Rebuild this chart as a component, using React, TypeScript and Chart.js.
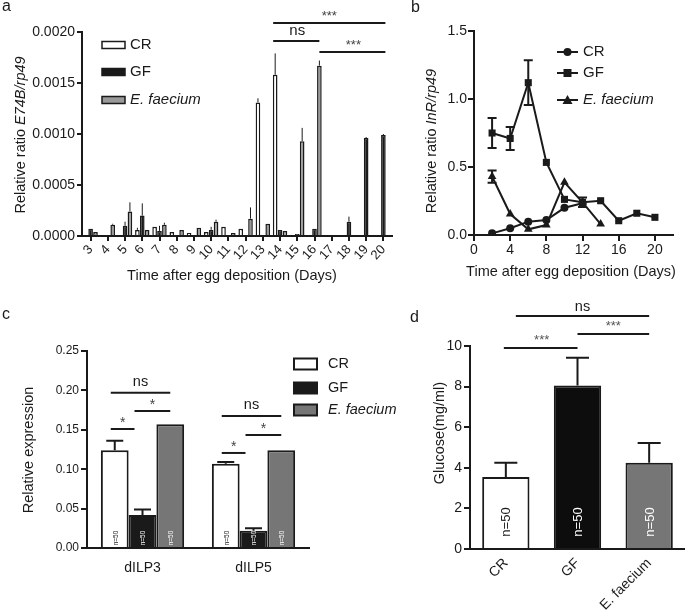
import React, { useEffect, useRef } from 'react';
import { Chart, registerables } from 'chart.js';
Chart.register(...registerables);

const FONT = '"Liberation Sans", Arial, Helvetica, sans-serif';
const INK = '#1a1a1a';
const GREY_A = '#9a9a9a';
const GREY_CD = '#767676';

// ---------- Panel a : E74B/rp49 ----------
const daysA = ['3', '4', '5', '6', '7', '8', '9', '10', '11', '12', '13', '14', '15', '16', '17', '18', '19', '20'];
const crA = [0.00001, 0.00001, 0.00001, 0.00006, 0.00009, 0.00004, 0.00003, 0.00004, 0.00009, 0.00007, 0.00131, 0.00158, 0, 0, 0, 0, 0, 0];
const crAErr = [0, 0, 0, 0.00002, 0, 0, 0, 0, 0, 0, 0.00004, 0.00021, 0, 0, 0, 0, 0, 0];
const gfA = [0.00007, 0.00001, 0.0001, 0.0002, 0.00005, 0, 0, 0.00006, 0, 0, 0, 0.00006, 0.00002, 0.00007, 0.00001, 0.00014, 0.00096, 0.00099];
const gfAErr = [0, 0, 0.00004, 0.00012, 0.00005, 0, 0, 0.00003, 0, 0, 0, 0, 0, 0, 0, 0.00005, 0.00001, 0.00001];
const efA = [0.00004, 0.00011, 0.00024, 0.00006, 0.00011, 0.00006, 0.00008, 0.00014, 0.00003, 0.00017, 0.00012, 0.00005, 0.00093, 0.00167, 0, 0, 0, 0];
const efAErr = [0, 0.00001, 0.00009, 0, 0.00002, 0, 0, 0.00002, 0, 0.00011, 0, 0, 0.00013, 0.00005, 0, 0, 0, 0];
const yTicksA = [0, 0.0005, 0.001, 0.0015, 0.002];

// ---------- Panel b : InR/rp49 ----------
const crBDays = [2, 4, 6, 8, 10, 12];
const crBVals = [0.012, 0.05, 0.098, 0.11, 0.2, 0.233];
const gfBDays = [2, 4, 6, 8, 10, 12, 14, 16, 18, 20];
const gfBVals = [0.75, 0.71, 1.12, 0.534, 0.262, 0.24, 0.252, 0.105, 0.16, 0.13];
const gfBErr = [0.11, 0.085, 0.165, 0, 0, 0.035, 0, 0, 0, 0];
const efBDays = [2, 4, 6, 8, 10, 12, 14];
const efBVals = [0.43, 0.154, 0.042, 0.073, 0.387, 0.24, 0.08];
const efBErr = [0.045, 0, 0, 0, 0, 0, 0];
const xTicksB = [0, 4, 8, 12, 16, 20];

// ---------- Panel c : dILP expression ----------
const genesC = ['dILP3', 'dILP5'];
const crC = [0.124, 0.107];
const crCErr = [0.012, 0.002];
const gfC = [0.042, 0.022];
const gfCErr = [0.007, 0.003];
const efC = [0.157, 0.124];
const efCErr = [0, 0];

// ---------- Panel d : Glucose ----------
const groupsD = ['CR', 'GF', 'E. faecium'];
const glucoseD = [3.55, 8.05, 4.25];
const glucoseDErr = [0.7, 1.37, 0.97];

const legendNames = ['CR', 'GF', 'E. faecium'];

type Seg = [string, boolean];

function drawRich(ctx: any, segs: Seg[], x: number, y: number, size: number, rotate = false, align = 'center', color = INK) {
  ctx.save();
  ctx.translate(x, y);
  if (rotate) ctx.rotate(-Math.PI / 2);
  const fonts = segs.map(([, it]) => `${it ? 'italic ' : ''}${size}px ${FONT}`);
  let total = 0;
  const widths = segs.map(([t], k) => {
    ctx.font = fonts[k];
    const w = ctx.measureText(t).width;
    total += w;
    return w;
  });
  let cx = align === 'center' ? -total / 2 : align === 'left' ? 0 : -total;
  ctx.textBaseline = 'middle';
  ctx.textAlign = 'left';
  ctx.fillStyle = color;
  segs.forEach(([t], k) => {
    ctx.font = fonts[k];
    ctx.fillText(t, cx, 0);
    cx += widths[k];
  });
  ctx.restore();
}

function hLine(ctx: any, x1: number, x2: number, y: number, w = 2) {
  ctx.save();
  ctx.strokeStyle = INK;
  ctx.lineWidth = w;
  ctx.beginPath();
  ctx.moveTo(x1, y);
  ctx.lineTo(x2, y);
  ctx.stroke();
  ctx.restore();
}

const errorBarPlugin = {
  id: 'errorBars',
  afterDatasetsDraw(chart: any) {
    const ctx = chart.ctx;
    chart.data.datasets.forEach((ds: any, i: number) => {
      const errs = ds.errors;
      if (!errs) return;
      const meta = chart.getDatasetMeta(i);
      const yScale = chart.scales[meta.yAxisID];
      meta.data.forEach((el: any, j: number) => {
        const e = errs[j];
        if (!e) return;
        const raw = ds.data[j];
        const v = typeof raw === 'object' ? raw.y : raw;
        const x = el.x;
        const yTop = yScale.getPixelForValue(v + e);
        const yBot = ds.errBoth ? yScale.getPixelForValue(v - e) : yScale.getPixelForValue(v);
        const cap = ds.errCap || 0;
        ctx.save();
        ctx.strokeStyle = INK;
        ctx.lineWidth = ds.errWidth || 1;
        ctx.beginPath();
        ctx.moveTo(x, yBot);
        ctx.lineTo(x, yTop);
        if (cap > 0) {
          ctx.moveTo(x - cap / 2, yTop);
          ctx.lineTo(x + cap / 2, yTop);
          if (ds.errBoth) {
            ctx.moveTo(x - cap / 2, yBot);
            ctx.lineTo(x + cap / 2, yBot);
          }
        }
        ctx.stroke();
        ctx.restore();
      });
    });
  },
};

function axisStyle(extra: any = {}) {
  return {
    grid: { display: true, drawOnChartArea: false, drawTicks: true, tickLength: 5, color: INK, lineWidth: 2, ...(extra.grid || {}) },
    border: { display: true, color: INK, width: 2 },
    ...extra.rest,
  };
}

function makeConfigA(): any {
  return {
    type: 'bar',
    data: {
      labels: daysA,
      datasets: [
        { label: 'CR', data: crA, errors: crAErr, errWidth: 1, backgroundColor: '#ffffff', borderColor: INK, borderWidth: 1.5 },
        { label: 'GF', data: gfA, errors: gfAErr, errWidth: 1, backgroundColor: INK, borderColor: INK, borderWidth: 1.5 },
        { label: 'E. faecium', data: efA, errors: efAErr, errWidth: 1, backgroundColor: GREY_A, borderColor: INK, borderWidth: 1.5 },
      ],
    },
    options: {
      responsive: false,
      animation: false,
      layout: { padding: { left: 0, right: 18, top: 32, bottom: 0 } },
      plugins: { legend: { display: false }, tooltip: { enabled: false } },
      datasets: { bar: { categoryPercentage: 0.85, barPercentage: 0.95 } },
      scales: {
        x: {
          ...axisStyle({ grid: { offset: false, tickLength: 5 } }),
          ticks: { color: INK, font: { family: FONT, size: 13 }, minRotation: 48, maxRotation: 48, padding: 1, autoSkip: false },
          afterFit(s: any) { s.height = 64; },
        },
        y: {
          ...axisStyle(),
          min: 0,
          max: 0.002,
          afterBuildTicks(s: any) { s.ticks = yTicksA.map((v) => ({ value: v })); },
          ticks: { color: INK, font: { family: FONT, size: 14 }, padding: 2, callback: (v: any) => Number(v).toFixed(4) },
          afterFit(s: any) { s.width = 82; },
        },
      },
    },
    plugins: [
      errorBarPlugin,
      {
        id: 'overlayA',
        afterDraw(chart: any) {
          const ctx = chart.ctx;
          const y = chart.scales.y;
          drawRich(ctx, [['Relative ratio ', false], ['E74B/rp49', true]], 21, 135, 14.5, true);
          drawRich(ctx, [['Time after egg deposition (Days)', false]], 232, 276, 14.5);
          // legend
          const fills = ['#ffffff', INK, GREY_A];
          const ly = [45, 72, 100];
          fills.forEach((f, k) => {
            ctx.save();
            ctx.fillStyle = f;
            ctx.strokeStyle = INK;
            ctx.lineWidth = 1.5;
            ctx.fillRect(102, ly[k] - 3.5, 23, 7);
            ctx.strokeRect(102, ly[k] - 3.5, 23, 7);
            ctx.restore();
            drawRich(ctx, [[legendNames[k], k === 2]], 130, ly[k], 15, false, 'left');
          });
          // significance
          const cr14 = chart.getDatasetMeta(0).data[11].x;
          const ef16 = chart.getDatasetMeta(2).data[13].x;
          const gf20 = chart.getDatasetMeta(1).data[17].x;
          const yTop = y.getPixelForValue(0.002088);
          const yNs = y.getPixelForValue(0.001912);
          const yLow = y.getPixelForValue(0.001804);
          hLine(ctx, cr14 - 2, gf20 + 2, yTop);
          drawRich(ctx, [['***', false]], (cr14 + gf20) / 2, yTop - 7, 13, false, 'center', '#444');
          hLine(ctx, cr14 - 2, ef16, yNs);
          drawRich(ctx, [['ns', false]], (cr14 + ef16) / 2, yNs - 10, 15);
          hLine(ctx, ef16, gf20 + 2, yLow);
          drawRich(ctx, [['***', false]], (ef16 + gf20) / 2 + 2, yLow - 7, 13, false, 'center', '#444');
        },
      },
    ],
  };
}

function toXY(xs: number[], ys: number[]) {
  return xs.map((x, i) => ({ x, y: ys[i] }));
}

function makeConfigB(): any {
  const common = { showLine: true, borderColor: INK, backgroundColor: INK, borderWidth: 2, pointRadius: 4, pointBorderWidth: 0, errBoth: true, errCap: 9, errWidth: 2 };
  return {
    type: 'scatter',
    data: {
      datasets: [
        { label: 'CR', data: toXY(crBDays, crBVals), pointStyle: 'circle', ...common },
        { label: 'GF', data: toXY(gfBDays, gfBVals), errors: gfBErr, pointStyle: 'rect', ...common, pointRadius: 5 },
        { label: 'E. faecium', data: toXY(efBDays, efBVals), errors: efBErr, pointStyle: 'triangle', ...common, pointRadius: 5 },
      ],
    },
    options: {
      responsive: false,
      animation: false,
      layout: { padding: { left: 0, right: 12, top: 31, bottom: 0 } },
      plugins: { legend: { display: false }, tooltip: { enabled: false } },
      scales: {
        x: {
          type: 'linear',
          ...axisStyle({ grid: { tickLength: 6 } }),
          min: 0,
          max: 22,
          afterBuildTicks(s: any) { s.ticks = xTicksB.map((v) => ({ value: v })); },
          ticks: { color: INK, font: { family: FONT, size: 14 }, padding: 1, maxRotation: 0 },
          afterFit(s: any) { s.height = 65; },
        },
        y: {
          ...axisStyle({ grid: { tickLength: 6 } }),
          min: 0,
          max: 1.5,
          afterBuildTicks(s: any) { s.ticks = [0, 0.5, 1, 1.5].map((v) => ({ value: v })); },
          ticks: { color: INK, font: { family: FONT, size: 14 }, padding: 1, callback: (v: any) => Number(v).toFixed(1) },
          afterFit(s: any) { s.width = 64; },
        },
      },
    },
    plugins: [
      errorBarPlugin,
      {
        id: 'overlayB',
        afterDraw(chart: any) {
          const ctx = chart.ctx;
          drawRich(ctx, [['Relative ratio ', false], ['InR/rp49', true]], 22, 141, 14.5, true);
          drawRich(ctx, [['Time after egg deposition (Days)', false]], 161, 272, 14.5);
          const ly = [52, 73, 100];
          const styles = ['circle', 'rect', 'triangle'];
          ly.forEach((yy, k) => {
            hLine(ctx, 147, 168, yy, 2);
            ctx.save();
            ctx.fillStyle = INK;
            ctx.beginPath();
            if (styles[k] === 'circle') {
              ctx.arc(157.5, yy, 4, 0, Math.PI * 2);
            } else if (styles[k] === 'rect') {
              ctx.rect(153.5, yy - 4, 8, 8);
            } else {
              ctx.moveTo(157.5, yy - 5);
              ctx.lineTo(162.5, yy + 4);
              ctx.lineTo(152.5, yy + 4);
              ctx.closePath();
            }
            ctx.fill();
            ctx.restore();
            drawRich(ctx, [[legendNames[k], k === 2]], 173, yy, 15, false, 'left');
          });
        },
      },
    ],
  };
}

function makeConfigC(): any {
  return {
    type: 'bar',
    data: {
      labels: genesC,
      datasets: [
        { label: 'CR', data: crC, errors: crCErr, errCap: 17, errWidth: 2, backgroundColor: '#ffffff', borderColor: INK, borderWidth: 2, nColor: INK },
        { label: 'GF', data: gfC, errors: gfCErr, errCap: 17, errWidth: 2, backgroundColor: INK, borderColor: INK, borderWidth: 2, nColor: '#ffffff' },
        { label: 'E. faecium', data: efC, errors: efCErr, errCap: 17, errWidth: 2, backgroundColor: GREY_CD, borderColor: INK, borderWidth: 2, nColor: '#ffffff' },
      ],
    },
    options: {
      responsive: false,
      animation: false,
      layout: { padding: { left: 0, right: 101, top: 51, bottom: 0 } },
      plugins: { legend: { display: false }, tooltip: { enabled: false } },
      datasets: { bar: { categoryPercentage: 0.75, barPercentage: 1 } },
      scales: {
        x: {
          grid: { display: false, drawTicks: false },
          border: { display: true, color: INK, width: 2 },
          ticks: { color: INK, font: { family: FONT, size: 14 }, padding: 12 },
          afterFit(s: any) { s.height = 65; },
        },
        y: {
          ...axisStyle({ grid: { tickLength: 6 } }),
          min: 0,
          max: 0.25,
          afterBuildTicks(s: any) { s.ticks = [0, 0.05, 0.1, 0.15, 0.2, 0.25].map((v) => ({ value: v })); },
          ticks: { color: INK, font: { family: FONT, size: 12 }, padding: 2, callback: (v: any) => Number(v).toFixed(2) },
          afterFit(s: any) { s.width = 87; },
        },
      },
    },
    plugins: [
      errorBarPlugin,
      {
        id: 'overlayC',
        afterDraw(chart: any) {
          const ctx = chart.ctx;
          const y = chart.scales.y;
          drawRich(ctx, [['Relative expression', false]], 29, 150, 14.5, true);
          // n labels
          chart.data.datasets.forEach((ds: any, i: number) => {
            chart.getDatasetMeta(i).data.forEach((el: any) => {
              drawRich(ctx, [['n=50', false]], el.x + 1, 238, 6.5, true, 'center', ds.nColor);
            });
          });
          // legend
          const fills = ['#ffffff', INK, GREY_CD];
          const ly = [64, 88, 110];
          fills.forEach((f, k) => {
            ctx.save();
            ctx.fillStyle = f;
            ctx.strokeStyle = INK;
            ctx.lineWidth = 2;
            ctx.fillRect(294, ly[k] - 5.5, 23, 11);
            ctx.strokeRect(294, ly[k] - 5.5, 23, 11);
            ctx.restore();
            drawRich(ctx, [[legendNames[k], k === 2]], 328, ly[k], 14.5, false, 'left');
          });
          // significance
          const m0 = chart.getDatasetMeta(0).data;
          const m1 = chart.getDatasetMeta(1).data;
          const m2 = chart.getDatasetMeta(2).data;
          const sig = [
            { ns: 0.197, lo: 0.151, hi: 0.174 },
            { ns: 0.1675, lo: 0.1206, hi: 0.1434 },
          ];
          sig.forEach((s, g) => {
            const a = m0[g].x - 4;
            const mid = m1[g].x - 8;
            const b = m2[g].x;
            const yNs = y.getPixelForValue(s.ns);
            const yLo = y.getPixelForValue(s.lo);
            const yHi = y.getPixelForValue(s.hi);
            hLine(ctx, a, b, yNs);
            drawRich(ctx, [['ns', false]], (a + b) / 2, yNs - 11, 14.5);
            hLine(ctx, a, mid, yLo);
            drawRich(ctx, [['*', false]], (a + mid) / 2, yLo - 6, 14, false, 'center', '#444');
            hLine(ctx, mid, b, yHi);
            drawRich(ctx, [['*', false]], (mid + b) / 2, yHi - 6, 14, false, 'center', '#444');
          });
        },
      },
    ],
  };
}

function makeConfigD(): any {
  return {
    type: 'bar',
    data: {
      labels: groupsD,
      datasets: [
        {
          label: 'Glucose',
          data: glucoseD,
          errors: glucoseDErr,
          errCap: 23,
          errWidth: 2,
          backgroundColor: ['#ffffff', '#0d0d0d', GREY_CD],
          borderColor: INK,
          borderWidth: 2,
        },
      ],
    },
    options: {
      responsive: false,
      animation: false,
      layout: { padding: { left: 0, right: 0, top: 46, bottom: 0 } },
      plugins: { legend: { display: false }, tooltip: { enabled: false } },
      datasets: { bar: { categoryPercentage: 0.66, barPercentage: 1 } },
      scales: {
        x: {
          grid: { display: false, drawTicks: false },
          border: { display: true, color: INK, width: 2 },
          ticks: { color: INK, font: { family: FONT, size: 14 }, padding: 6, minRotation: 45, maxRotation: 45 },
          afterFit(s: any) { s.height = 64; },
        },
        y: {
          ...axisStyle({ grid: { tickLength: 6 } }),
          min: 0,
          max: 10,
          afterBuildTicks(s: any) { s.ticks = [0, 2, 4, 6, 8, 10].map((v) => ({ value: v })); },
          ticks: { color: INK, font: { family: FONT, size: 14 }, padding: 2 },
          afterFit(s: any) { s.width = 60; },
        },
      },
    },
    plugins: [
      errorBarPlugin,
      {
        id: 'overlayD',
        afterDraw(chart: any) {
          const ctx = chart.ctx;
          const y = chart.scales.y;
          drawRich(ctx, [['Glucose(mg/ml)', false]], 30, 133, 14.5, true);
          const bars = chart.getDatasetMeta(0).data;
          const nCols = [INK, '#ffffff', '#ffffff'];
          bars.forEach((el: any, k: number) => {
            drawRich(ctx, [['n=50', false]], el.x + 1, 222, 13, true, 'center', nCols[k]);
          });
          const xCR = bars[0].x;
          const xGF = bars[1].x;
          const xEF = bars[2].x;
          const yLo = y.getPixelForValue(9.9);
          const yHi = y.getPixelForValue(10.59);
          const yNs = y.getPixelForValue(11.48);
          hLine(ctx, xCR - 2, xGF, yLo);
          drawRich(ctx, [['***', false]], (xCR + xGF) / 2, yLo - 8, 13, false, 'center', '#555');
          hLine(ctx, xGF, xEF, yHi);
          drawRich(ctx, [['***', false]], (xGF + xEF) / 2, yHi - 8, 13, false, 'center', '#555');
          hLine(ctx, xCR + 10, xEF, yNs);
          drawRich(ctx, [['ns', false]], (xCR + 10 + xEF) / 2, yNs - 9, 14.5);
        },
      },
    ],
  };
}

function ChartBox({ make, left, top, width, height }: any) {
  const ref = useRef<HTMLCanvasElement | null>(null);
  useEffect(() => {
    const chart = new Chart(ref.current as HTMLCanvasElement, make());
    return () => chart.destroy();
  }, []);
  return (
    <div style={{ position: 'absolute', left, top, width, height }}>
      <canvas ref={ref} width={width} height={height} style={{ width, height, display: 'block' }} />
    </div>
  );
}

const letterStyle: any = { position: 'absolute', fontFamily: FONT, fontSize: 16, lineHeight: '16px', color: INK };

export default function App() {
  return (
    <div style={{ position: 'fixed', left: 0, top: 0, width: 685, height: 613, background: '#ffffff', overflow: 'hidden' }}>
      <ChartBox make={makeConfigA} left={0} top={0} width={410} height={300} />
      <ChartBox make={makeConfigB} left={410} top={0} width={275} height={300} />
      <ChartBox make={makeConfigC} left={0} top={300} width={410} height={313} />
      <ChartBox make={makeConfigD} left={410} top={300} width={275} height={313} />
      <div style={{ ...letterStyle, left: 2, top: -2 }}>a</div>
      <div style={{ ...letterStyle, left: 411, top: -1 }}>b</div>
      <div style={{ ...letterStyle, left: 2, top: 306 }}>c</div>
      <div style={{ ...letterStyle, left: 410, top: 309 }}>d</div>
    </div>
  );
}
